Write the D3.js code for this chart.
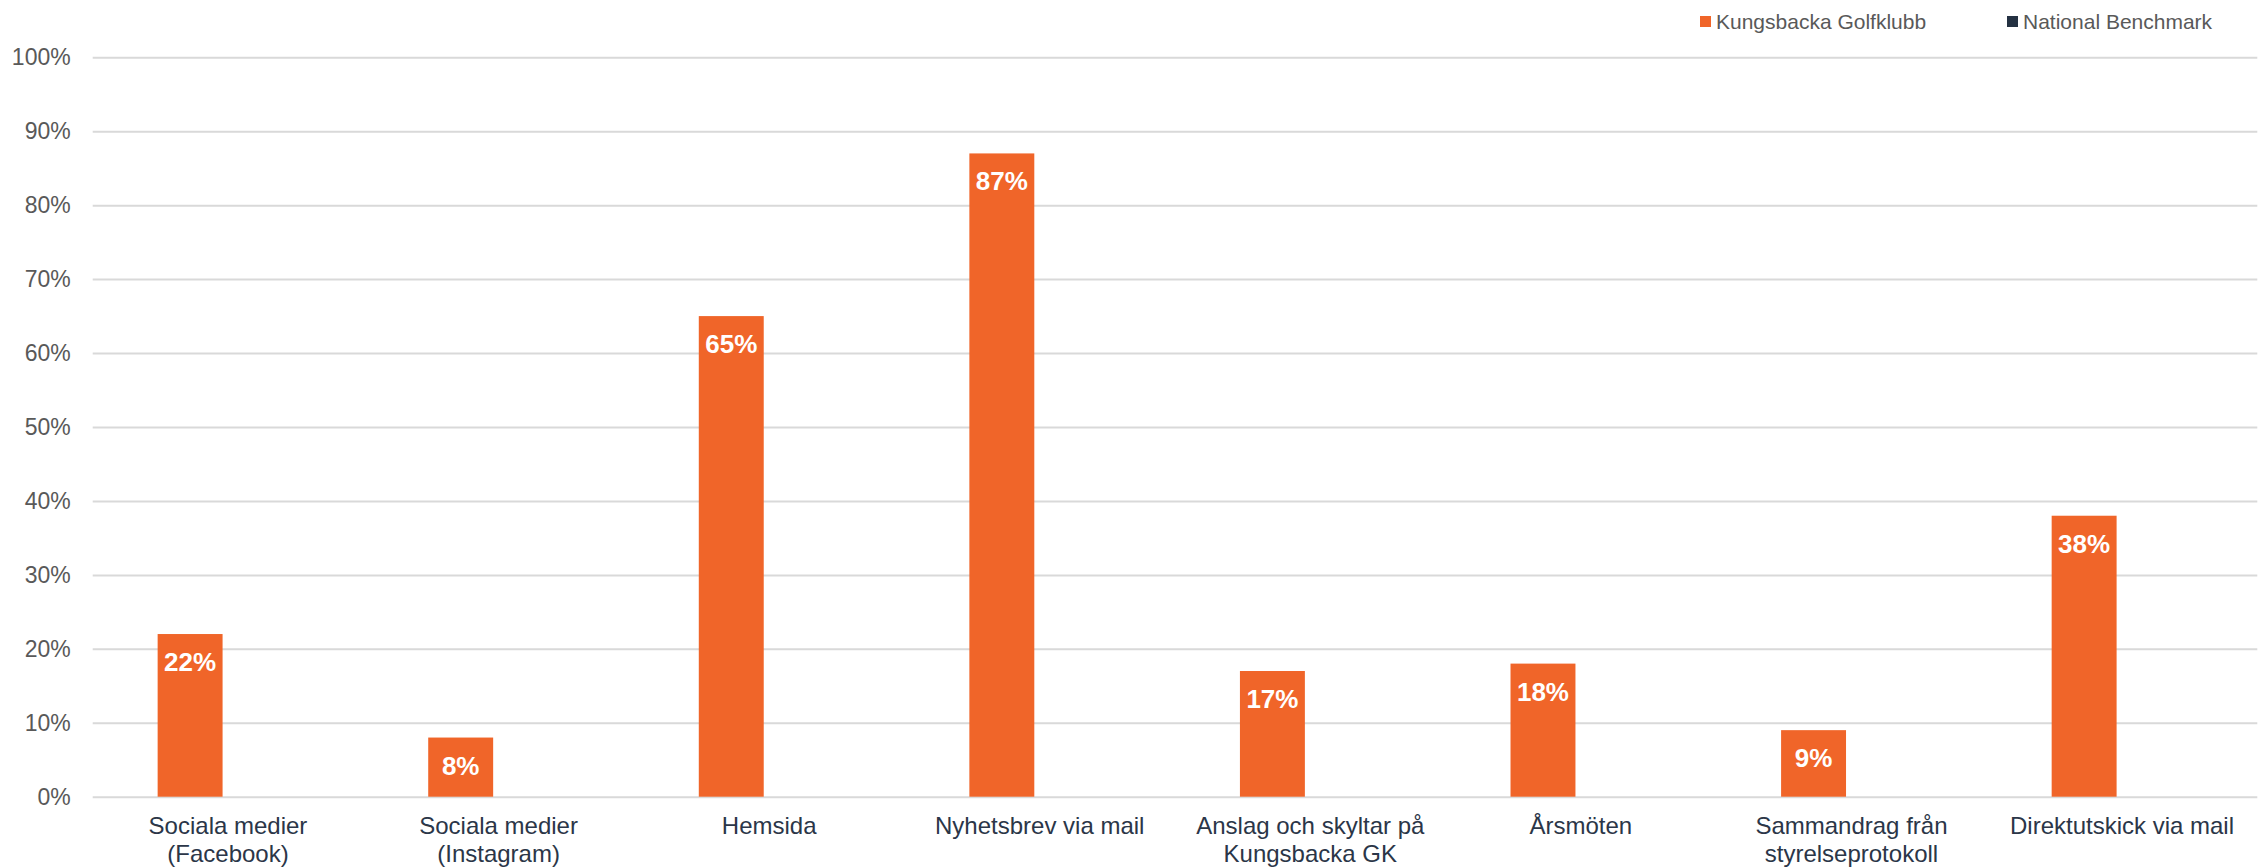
<!DOCTYPE html>
<html>
<head>
<meta charset="utf-8">
<script src="https://cdn.jsdelivr.net/npm/d3@7"></script>
<style>
  html, body { margin: 0; padding: 0; background: #fff; }
  svg { display: block; font-family: "Liberation Sans", Arial, sans-serif; }
</style>
</head>
<body>
<svg id="chart" width="2264" height="868"></svg>
<script>
// ---- Data ----
const categories = [
  "Sociala medier\n(Facebook)",
  "Sociala medier\n(Instagram)",
  "Hemsida",
  "Nyhetsbrev via mail",
  "Anslag och skyltar på\nKungsbacka GK",
  "Årsmöten",
  "Sammandrag från\nstyrelseprotokoll",
  "Direktutskick via mail"
];
const seriesNames = ["Kungsbacka Golfklubb", "National Benchmark"];
const kungsbackaValues = [22, 8, 65, 87, 17, 18, 9, 38];
const benchmarkValues = [null, null, null, null, null, null, null, null];
const yTicks = [0, 10, 20, 30, 40, 50, 60, 70, 80, 90, 100];

// ---- Layout ----
const M = { left: 92.7, right: 2257.3, top: 57.3, bottom: 796.7 };
const colors = ["#f06529", "#243142"];

const svg = d3.select("#chart");

const x0 = d3.scaleBand().domain(categories).range([M.left, M.right]).paddingInner(0).paddingOuter(0);
const bw = x0.bandwidth();
const x1 = d3.scaleBand().domain(seriesNames).range([0.24 * bw, 0.72 * bw]).padding(0);
const y = d3.scaleLinear().domain([0, 100]).range([M.bottom, M.top]);

// gridlines + y labels via axis
const yAxis = d3.axisLeft(y).tickValues(yTicks).tickFormat(d => d + "%").tickSize(-(M.right - M.left)).tickPadding(22);
const gy = svg.append("g").attr("transform", `translate(${M.left},0)`).call(yAxis);
gy.select(".domain").remove();
gy.selectAll(".tick line").attr("stroke", "#d9d9d9").attr("stroke-width", 2);
gy.selectAll(".tick text").attr("fill", "#595959").attr("font-size", 23).attr("font-family", "Liberation Sans, Arial, sans-serif");

// bars
const seriesData = [kungsbackaValues, benchmarkValues];
seriesData.forEach((vals, si) => {
  const g = svg.append("g");
  const data = categories.map((c, i) => ({ c, v: vals[i] })).filter(d => d.v != null);
  g.selectAll("rect").data(data).join("rect")
    .attr("x", d => x0(d.c) + x1(seriesNames[si]))
    .attr("width", x1.bandwidth())
    .attr("y", d => y(d.v))
    .attr("height", d => y(0) - y(d.v))
    .attr("fill", colors[si]);
  g.selectAll("text").data(data).join("text")
    .attr("x", d => x0(d.c) + x1(seriesNames[si]) + x1.bandwidth() / 2)
    .attr("y", d => y(d.v) + 37)
    .attr("text-anchor", "middle")
    .attr("fill", "#ffffff")
    .attr("font-weight", "bold")
    .attr("font-size", 26)
    .text(d => d.v + "%");
});

// x labels
const xAxis = d3.axisBottom(x0).tickSize(0).tickFormat("");
const gx = svg.append("g").attr("transform", `translate(0,${M.bottom})`).call(xAxis);
gx.select(".domain").remove();
gx.selectAll(".tick").each(function(d) {
  const lines = d.split("\n");
  const t = d3.select(this).append("text")
    .attr("text-anchor", "middle")
    .attr("fill", "#2b3648")
    .attr("font-size", 24)
    .attr("font-family", "Liberation Sans, Arial, sans-serif");
  lines.forEach((ln, i) => {
    t.append("tspan").attr("x", 0).attr("y", 37 + i * 28).text(ln);
  });
});

// legend
const legendItems = [
  { name: seriesNames[0], color: colors[0], x: 1700 },
  { name: seriesNames[1], color: colors[1], x: 2007 }
];
const lg = svg.append("g");
legendItems.forEach(it => {
  lg.append("rect").attr("x", it.x).attr("y", 16).attr("width", 11).attr("height", 11).attr("fill", it.color);
  lg.append("text").attr("x", it.x + 16).attr("y", 29)
    .attr("fill", "#595959").attr("font-size", 21).text(it.name);
});
</script>
</body>
</html>
